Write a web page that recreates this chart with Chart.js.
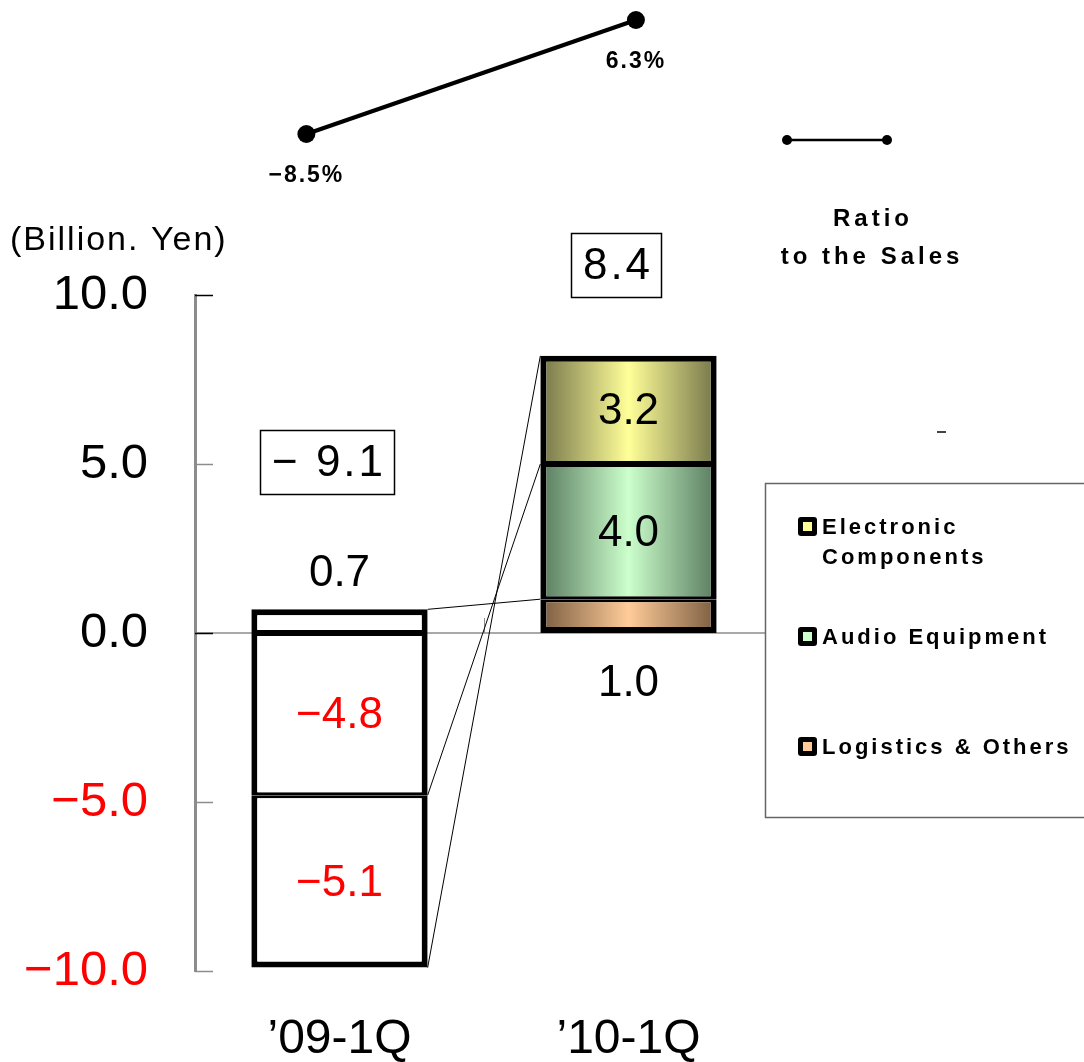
<!DOCTYPE html>
<html>
<head>
<meta charset="utf-8">
<title>Operating Income by Segment</title>
<script src="https://cdn.jsdelivr.net/npm/chart.js@4.4.0/dist/chart.umd.min.js"></script>
<style>
  html, body { margin: 0; padding: 0; background: #ffffff; }
  #wrap { width: 1084px; height: 1062px; position: relative; }
  canvas { display: block; }
</style>
</head>
<body>
<div id="wrap"><canvas id="chart" width="1084" height="1062"></canvas></div>
<script>
// ---- data ----
const categories = ['’09-1Q', '’10-1Q'];
const logisticsValues = [0.7, 1.0];
const audioValues = [-4.8, 4.0];
const electronicValues = [-5.1, 3.2];
const totalValues = [-9.1, 8.4];
const ratioValues = [-8.5, 6.3];
const yTickValues = [-10, -5, 0, 5, 10];
const segmentNames = ['Logistics & Others', 'Audio Equipment', 'Electronic Components'];

// ---- styling ----
const SANS = '"Liberation Sans", Arial, sans-serif';
const RED = '#ff0000';
const GRID_GRAY = '#8c8c8c';
const BAR_SHARE = 0.61;
const series = [logisticsValues, audioValues, electronicValues];
const palette = [
  { dark: '#7a5c40', light: '#ffcc99' },   // logistics
  { dark: '#587a5e', light: '#ccffcc' },   // audio
  { dark: '#74744a', light: '#ffff99' }    // electronic
];

function fmt(v) {
  return (v < 0 ? '\u2212' : '') + Math.abs(v).toFixed(1);
}

// Outer edges of each stack get a heavy frame, shared edges half of it on each side.
function edgeWidths(ctx) {
  const i = ctx.dataIndex, d = ctx.datasetIndex;
  const v = series[d][i];
  const pos = v >= 0;
  const same = [];
  let hasOpposite = false;
  series.forEach((s, k) => {
    if ((s[i] >= 0) === pos) same.push(k); else hasOpposite = true;
  });
  const OUT = 6, IN = 3;
  const farEnd = same[same.length - 1] === d ? OUT : IN;
  const baseEnd = same[0] === d ? (hasOpposite ? IN : OUT) : IN;
  return pos
    ? { top: farEnd, bottom: baseEnd, left: OUT, right: OUT }
    : { top: baseEnd, bottom: farEnd, left: OUT, right: OUT };
}

// Cylinder-like horizontal shading for the current-year segments.
function segmentFill(ctx, colors) {
  if (ctx.dataIndex === 0) return '#ffffff';
  const chart = ctx.chart, xs = chart.scales.x;
  if (!chart.chartArea || !xs) return colors.light;
  const cx = xs.getPixelForValue(ctx.dataIndex);
  const w = xs.width / categories.length * BAR_SHARE;
  const g = chart.ctx.createLinearGradient(cx - w / 2, 0, cx + w / 2, 0);
  g.addColorStop(0, colors.dark);
  g.addColorStop(0.5, colors.light);
  g.addColorStop(1, colors.dark);
  return g;
}

function barDataset(d) {
  return {
    type: 'bar',
    label: segmentNames[d],
    data: series[d],
    stack: 'segments',
    grouped: false,
    xAxisID: 'x',
    yAxisID: 'y',
    borderColor: '#000000',
    borderSkipped: false,
    borderWidth: edgeWidths,
    inflateAmount: 0,
    backgroundColor: ctx => segmentFill(ctx, palette[d]),
    barPercentage: BAR_SHARE,
    categoryPercentage: 1,
    order: 2
  };
}

function withSpacing(ctx, spacing, fn) {
  ctx.save();
  try { ctx.letterSpacing = spacing; } catch (e) {}
  fn();
  ctx.restore();
}

// Axis details, zero line and connectors between the two stacks.
const underlayPlugin = {
  id: 'underlay',
  beforeDatasetsDraw(chart) {
    const { ctx, chartArea } = chart;
    const ys = chart.scales.y, xs = chart.scales.x;
    const y0 = ys.getPixelForValue(0);
    ctx.save();
    // zero line
    ctx.strokeStyle = GRID_GRAY;
    ctx.lineWidth = 1.5;
    ctx.beginPath();
    ctx.moveTo(chartArea.left, y0);
    ctx.lineTo(chartArea.right, y0);
    ctx.stroke();
    // inward tick marks
    yTickValues.forEach(v => {
      const y = Math.round(ys.getPixelForValue(v)) + 0.5;
      ctx.strokeStyle = (v === 0 || v === 10) ? '#000000' : GRID_GRAY;
      ctx.lineWidth = 1.5;
      ctx.beginPath();
      ctx.moveTo(chartArea.left, y);
      ctx.lineTo(chartArea.left + 18, y);
      ctx.stroke();
    });
    // category dividers on the zero line
    ctx.strokeStyle = GRID_GRAY;
    ctx.lineWidth = 1;
    for (let k = 1; k < categories.length; k++) {
      const x = Math.round(xs.left + k * xs.width / categories.length) + 0.5;
      ctx.beginPath();
      ctx.moveTo(x, y0);
      ctx.lineTo(x, y0 - 15);
      ctx.stroke();
    }
    // connectors: end of each segment in one year to the next
    ctx.strokeStyle = '#000000';
    ctx.lineWidth = 1;
    series.forEach((s, d) => {
      const meta = chart.getDatasetMeta(d);
      const a = meta.data[0], b = meta.data[1];
      if (!a || !b) return;
      ctx.beginPath();
      ctx.moveTo(a.x + a.width / 2, a.y);
      ctx.lineTo(b.x - b.width / 2, b.y);
      ctx.stroke();
    });
    ctx.restore();
  }
};

// Segment values, boxed totals, ratio markers and ratio values.
const labelPlugin = {
  id: 'labels',
  afterDatasetsDraw(chart) {
    const { ctx } = chart;
    ctx.save();
    ctx.textAlign = 'center';
    ctx.textBaseline = 'middle';
    ctx.font = '44px ' + SANS;
    const stackTops = [];
    series.forEach((s, d) => {
      const meta = chart.getDatasetMeta(d);
      meta.data.forEach((el, i) => {
        const v = s[i];
        const top = Math.min(el.y, el.base), bot = Math.max(el.y, el.base);
        if (v >= 0) stackTops[i] = Math.min(stackTops[i] ?? Infinity, top);
        const lastPositive = v >= 0 && series.every((o, k) => k <= d || o[i] < 0);
        let y;
        if (Math.abs(v) >= 2) y = (top + bot) / 2 + 2;
        else if (lastPositive) y = top - 35;
        else y = bot + 51;
        ctx.fillStyle = v < 0 ? RED : '#000000';
        ctx.fillText(fmt(v), el.x, y);
      });
    });

    // boxed totals
    const lift = [147, 91];
    const meta0 = chart.getDatasetMeta(0);
    totalValues.forEach((t, i) => {
      const el = meta0.data[i];
      const text = t < 0 ? '\u2212 ' + Math.abs(t).toFixed(1) : t.toFixed(1);
      const cx = el.x - 12;
      const cy = stackTops[i] - lift[i];
      withSpacing(ctx, '3px', () => {
        ctx.font = '44px ' + SANS;
        ctx.textAlign = 'center';
        ctx.textBaseline = 'middle';
        const tw = ctx.measureText(text).width;
        const bw = tw + 20, bh = 64;
        ctx.strokeStyle = '#000000';
        ctx.lineWidth = 1.5;
        ctx.strokeRect(Math.round(cx - bw / 2) + 0.5, Math.round(cy - bh / 2) + 0.5, Math.round(bw), bh);
        ctx.fillStyle = '#000000';
        ctx.fillText(text, cx + 1.5, cy + 2);
      });
    });

    // ratio markers and values
    const lineMeta = chart.getDatasetMeta(3);
    lineMeta.data.forEach((pt, i) => {
      const v = ratioValues[i];
      ctx.fillStyle = '#000000';
      ctx.beginPath();
      ctx.arc(pt.x, pt.y, 9, 0, Math.PI * 2);
      ctx.fill();
      withSpacing(ctx, '2px', () => {
        ctx.font = 'bold 23px ' + SANS;
        ctx.textAlign = 'center';
        ctx.textBaseline = 'middle';
        ctx.fillStyle = '#000000';
        ctx.fillText((v < 0 ? '\u2212' : '') + Math.abs(v).toFixed(1) + '%', pt.x, pt.y + 42);
      });
    });
    ctx.restore();
  }
};

// Unit caption and the two legend blocks.
const legendPlugin = {
  id: 'customLegend',
  afterDraw(chart) {
    const { ctx } = chart;
    ctx.save();

    withSpacing(ctx, '2px', () => {
      ctx.font = '34px ' + SANS;
      ctx.textAlign = 'left';
      ctx.textBaseline = 'middle';
      ctx.fillStyle = '#000000';
      ctx.fillText('(Billion. Yen)', 10, 241);
    });

    // ratio legend
    ctx.strokeStyle = '#000000';
    ctx.fillStyle = '#000000';
    ctx.lineWidth = 2.5;
    ctx.beginPath();
    ctx.moveTo(787, 140);
    ctx.lineTo(887, 140);
    ctx.stroke();
    [787, 887].forEach(x => {
      ctx.beginPath();
      ctx.arc(x, 140, 5, 0, Math.PI * 2);
      ctx.fill();
    });
    withSpacing(ctx, '4px', () => {
      ctx.font = 'bold 24px ' + SANS;
      ctx.textAlign = 'center';
      ctx.textBaseline = 'middle';
      ctx.fillStyle = '#000000';
      ctx.fillText('Ratio', 873, 219);
      ctx.fillText('to the Sales', 872, 257);
    });

    ctx.fillStyle = '#444444';
    ctx.fillRect(937, 431, 9, 2);

    // segment legend
    ctx.fillStyle = '#ffffff';
    ctx.fillRect(765, 483, 330, 335);
    ctx.strokeStyle = '#666666';
    ctx.lineWidth = 1.5;
    ctx.strokeRect(765.5, 483.5, 330, 334);

    const items = [
      { lines: ['Electronic', 'Components'], color: palette[2].light, y: 527 },
      { lines: ['Audio Equipment'], color: palette[1].light, y: 637 },
      { lines: ['Logistics & Others'], color: palette[0].light, y: 747 }
    ];
    items.forEach(it => {
      ctx.fillStyle = '#000000';
      ctx.beginPath();
      ctx.roundRect(798, it.y - 10, 19, 19, 3);
      ctx.fill();
      ctx.fillStyle = it.color;
      ctx.fillRect(803, it.y - 5, 9, 9);
      withSpacing(ctx, '3px', () => {
        ctx.font = 'bold 22px ' + SANS;
        ctx.textAlign = 'left';
        ctx.textBaseline = 'middle';
        ctx.fillStyle = '#000000';
        it.lines.forEach((t, k) => ctx.fillText(t, 822, it.y + 1 + k * 30));
      });
    });
    ctx.restore();
  }
};

const datasets = [0, 1, 2].map(barDataset);
datasets.push({
  type: 'line',
  label: 'Ratio to the Sales',
  data: ratioValues.map((v, i) => ({ x: i, y: v })),
  xAxisID: 'xr',
  yAxisID: 'y2',
  borderColor: '#000000',
  borderWidth: 4,
  pointRadius: 9,
  pointBackgroundColor: '#000000',
  pointBorderColor: '#000000',
  pointBorderWidth: 0,
  tension: 0,
  clip: false,
  order: 1
});

new Chart(document.getElementById('chart'), {
  data: { labels: categories, datasets },
  options: {
    responsive: false,
    animation: false,
    events: [],
    layout: { padding: { top: 295, right: 311, bottom: 0, left: 0 } },
    plugins: { legend: { display: false }, tooltip: { enabled: false } },
    scales: {
      x: {
        type: 'category',
        offset: true,
        stacked: true,
        grid: { display: false, drawTicks: false },
        border: { display: false },
        ticks: { color: '#000000', font: { family: SANS, size: 48 }, padding: 40 },
        afterFit: s => { s.height = 91; }
      },
      y: {
        type: 'linear',
        position: 'left',
        stacked: true,
        min: -10,
        max: 10,
        afterBuildTicks: s => { s.ticks = yTickValues.map(v => ({ value: v })); },
        grid: { display: false, drawTicks: false },
        border: { display: true, color: GRID_GRAY, width: 3 },
        ticks: {
          callback: v => fmt(v),
          color: c => (c.tick && c.tick.value < 0) ? RED : '#000000',
          font: { family: SANS, size: 49 },
          padding: 47
        },
        afterFit: s => { s.width = 195; }
      },
      xr: { type: 'linear', display: false, min: -0.338, max: 1.416 },
      y2: { type: 'linear', display: false, min: -117.16, max: -29.40 }
    }
  },
  plugins: [underlayPlugin, labelPlugin, legendPlugin]
});
</script>
</body>
</html>
